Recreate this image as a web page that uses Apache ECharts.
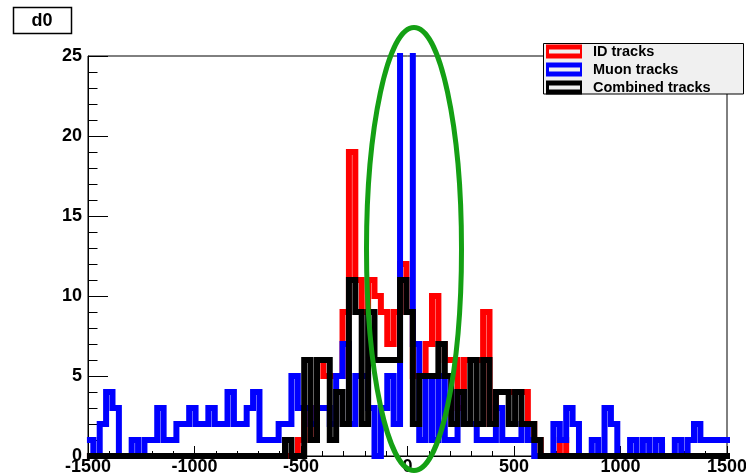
<!DOCTYPE html>
<html><head><meta charset="utf-8">
<script src="https://cdn.jsdelivr.net/npm/echarts@6/dist/echarts.min.js"></script>
<style>html,body{margin:0;padding:0;background:#fff}#c{width:746px;height:476px}</style>
</head><body><div id="c"></div>
<script>
// Histogram bins: width 30, first bin edge at -1505 (101 bins)
const binStart = -1505;
const binWidth = 30;

const idTracks = [
  0,0,0,0,0,0,0,0,0,0,
  0,0,0,0,0,0,0,0,0,0,
  0,0,0,0,0,0,0,0,0,0,
  0,0,0,1,3,1,6,5,5,5,
  9,19,11,9,11,10,9,7,9,12,
  9,5,5,7,10,7,6,6,3,6,
  6,6,9,2,4,4,4,4,4,2,
  1,0,0,0,1,0,0,0,0,0,
  0,0,0,0,0,0,0,0,0,0,
  0,0,0,0,0,0,0,0,0,0,
  0
];
const muonTracks = [
  1,0,2,4,3,0,0,1,0,1,
  1,3,1,1,2,2,3,2,2,3,
  2,2,4,2,2,3,4,1,1,1,
  2,2,5,3,3,2,3,3,2,5,
  7,2,5,5,3,0,3,5,2,30,
  30,7,1,5,1,5,1,1,4,2,
  2,1,1,1,3,1,1,1,2,1,
  0,0,0,2,1,3,2,0,0,1,
  0,3,2,0,0,1,0,1,0,1,
  0,0,1,0,1,2,1,1,1,1,
  1
];
const combinedTracks = [
  0,0,0,0,0,0,0,0,0,0,
  0,0,0,0,0,0,0,0,0,0,
  0,0,0,0,0,0,0,0,0,0,
  0,1,0,0,6,1,6,6,1,4,
  2,11,9,2,9,6,6,6,6,11,
  9,2,5,5,5,7,5,2,4,2,
  6,2,6,2,4,4,2,4,2,2,
  1,0,0,0,0,0,0,0,0,0,
  0,0,0,0,0,0,0,0,0,0,
  0,0,0,0,0,0,0,0,0,0,
  0
];

const xTicks = [-1500, -1000, -500, 0, 500, 1000, 1500];
const yTicks = [0, 5, 10, 15, 20, 25];
const seriesNames = ['ID tracks', 'Muon tracks', 'Combined tracks'];
const seriesColors = ['#ff0000', '#0000ff', '#000000'];

function steps(vals) {
  const pts = vals.map((v, i) => [binStart + i * binWidth, v]);
  pts.push([binStart + vals.length * binWidth, vals[vals.length - 1]]);
  return pts;
}

const font = 'Liberation Sans';
const chart = echarts.init(document.getElementById('c'));
const iconPath = 'path://M0,0H36V14H0Z M3,5V9H34V5Z';
const allData = [idTracks, muonTracks, combinedTracks];

chart.setOption({
  animation: false,
  grid: { left: 88, right: 19, top: 56, bottom: 20, show: true, borderColor: '#000', borderWidth: 1, outerBoundsMode: 'none' },
  xAxis: {
    type: 'value', min: xTicks[0], max: xTicks[xTicks.length - 1], interval: xTicks[1] - xTicks[0],
    axisLine: { show: true, onZero: false, lineStyle: { color: '#000', width: 1 } },
    axisTick: { show: true, inside: true, length: 10, lineStyle: { color: '#000' } },
    minorTick: { show: true, splitNumber: 5, length: 5, lineStyle: { color: '#000' } },
    splitLine: { show: false },
    axisLabel: { color: '#000', fontWeight: 'bold', fontSize: 18, fontFamily: font, margin: 2, formatter: v => String(v) }
  },
  yAxis: {
    type: 'value', min: yTicks[0], max: yTicks[yTicks.length - 1], interval: yTicks[1] - yTicks[0],
    axisLine: { show: true, onZero: false, lineStyle: { color: '#000', width: 1 } },
    axisTick: { show: true, inside: true, length: 20, lineStyle: { color: '#000' } },
    minorTick: { show: true, splitNumber: 5, length: 9.5, lineStyle: { color: '#000' } },
    splitLine: { show: false },
    axisLabel: { color: '#000', fontWeight: 'bold', fontSize: 18, fontFamily: font, margin: 6, formatter: v => String(v) }
  },
  legend: {
    orient: 'vertical', left: 546, top: 44, padding: 0, itemGap: 3,
    itemWidth: 36, itemHeight: 14, selectedMode: false, icon: iconPath,
    itemStyle: { borderWidth: 0 },
    textStyle: { fontFamily: font, fontWeight: 'bold', fontSize: 14.5, color: '#000', padding: [0, 0, 0, 6] },
    data: seriesNames
  },
  graphic: [
    { type: 'rect', shape: { x: 13.5, y: 7.5, width: 58, height: 26 }, style: { fill: '#fff', stroke: '#000', lineWidth: 1.5 }, z: 5 },
    { type: 'text', x: 42, y: 21, style: { text: 'd0', font: 'bold 18px "Liberation Sans"', fill: '#000', align: 'center', verticalAlign: 'middle' }, z: 6 },
    { type: 'rect', shape: { x: 543.5, y: 43.5, width: 200, height: 50.5 }, style: { fill: '#f0f0f0', stroke: '#000', lineWidth: 1 }, z: 3 },
    { type: 'ellipse', shape: { cx: 414, cy: 249, rx: 47.5, ry: 221.5 }, style: { fill: 'none', stroke: '#14a014', lineWidth: 5 }, z: 100 }
  ],
  series: seriesNames.map((name, i) => ({
    name: name, type: 'line', step: 'end', data: steps(allData[i]),
    symbol: 'none', showSymbol: false, clip: true,
    lineStyle: { color: seriesColors[i], width: 6, join: 'miter', cap: 'butt' },
    itemStyle: { color: seriesColors[i] },
    z: 2 + i * 0.1
  }))
});
</script>
</body></html>
